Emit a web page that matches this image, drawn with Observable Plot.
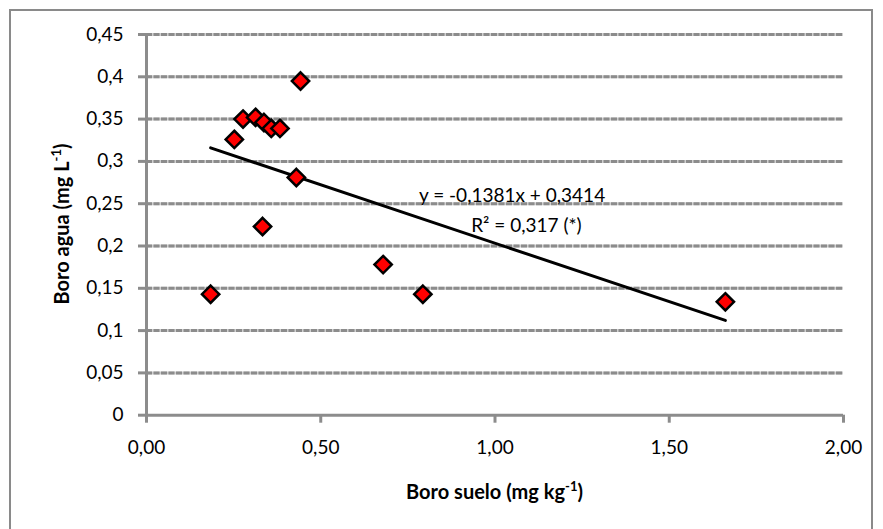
<!DOCTYPE html>
<html><head><meta charset="utf-8">
<script src="https://cdn.jsdelivr.net/npm/d3@7"></script>
<script src="https://cdn.jsdelivr.net/npm/@observablehq/plot@0.6"></script>
<style>
body{margin:0;background:#fff;}
#wrap{position:relative;width:883px;height:529px;overflow:hidden;}
#border{position:absolute;left:9px;top:9px;width:864px;height:560px;border:2px solid #8a8a8a;box-sizing:border-box;}
#chart{position:absolute;left:0;top:0;}
</style></head><body><div id="wrap"><div id="border"></div><div id="chart"></div></div>
<script>
const sueloB = [0.184, 0.252, 0.277, 0.313, 0.337, 0.358, 0.383, 0.333, 0.430, 0.442, 0.679, 0.793, 1.661];
const aguaB  = [0.143, 0.326, 0.350, 0.352, 0.346, 0.339, 0.339, 0.223, 0.281, 0.395, 0.178, 0.143, 0.134];
const slope = -0.1381, intercept = 0.3414;
const eqLines = ["y = -0,1381x + 0,3414", "R² = 0,317 (*)"];
const eqX = [1.049, 1.09];
const eqY = [0.2597, 0.224];
const xTicks = [0, 0.5, 1, 1.5, 2];
const xTickLabels = ["0,00", "0,50", "1,00", "1,50", "2,00"];
const yTicks = [0, 0.05, 0.1, 0.15, 0.2, 0.25, 0.3, 0.35, 0.4, 0.45];
const yTickLabels = ["0", "0,05", "0,1", "0,15", "0,2", "0,25", "0,3", "0,35", "0,4", "0,45"];
const xTitle = ["Boro suelo (mg kg", "-1", ")"];
const yTitle = ["Boro agua (mg L", "-1", ")"];

const pts = sueloB.map((x, i) => ({x, y: aguaB[i]}));
const trend = [d3.min(sueloB), d3.max(sueloB)].map(x => ({x, y: intercept + slope * x}));
const xFmt = new Map(xTicks.map((t, i) => [t, xTickLabels[i]]));
const yFmt = new Map(yTicks.map((t, i) => [t, yTickLabels[i]]));
const eq = eqLines.map((t, i) => ({t, x: eqX[i], y: eqY[i]}));

const plot = Plot.plot({
  width: 883, height: 529,
  marginLeft: 146, marginRight: 40, marginTop: 34, marginBottom: 114.3,
  style: {fontFamily: "Lato", fontSize: "19px", background: "transparent", overflow: "visible", color: "black"},
  x: {domain: [0, 2]},
  y: {domain: [0, 0.45]},
  marks: [
    Plot.gridY(yTicks.slice(1), {stroke: "#d0d0d0", strokeOpacity: 1, strokeWidth: 3}),
    Plot.gridY(yTicks.slice(1), {stroke: "#8c8c8c", strokeOpacity: 1, strokeWidth: 3, strokeDasharray: "6,1.5"}),
    Plot.ruleY([0], {stroke: "#8c8c8c", strokeWidth: 3}),
    Plot.ruleX([0], {stroke: "#8c8c8c", strokeWidth: 3}),
    Plot.axisX({ticks: xTicks, tickFormat: d => xFmt.get(d), tickSize: 8, tickPadding: 17, stroke: "#8c8c8c", strokeWidth: 3, fill: "black", label: null}),
    Plot.axisY({ticks: yTicks, tickFormat: d => yFmt.get(d), tickSize: 8, tickPadding: 15, stroke: "#8c8c8c", strokeWidth: 3, fill: "black", label: null}),
    Plot.line(trend, {x: "x", y: "y", stroke: "black", strokeWidth: 3}),
    Plot.dot(pts, {x: "x", y: "y", symbol: "diamond2", r: 7.8, fill: "#ff0000", stroke: "black", strokeWidth: 2.5}),
    Plot.text(eq, {x: "x", y: "y", text: "t", fontSize: 19, fill: "black"})
  ]
});
document.getElementById("chart").appendChild(plot);

const svg = d3.select(plot);
function title(parts, transform) {
  const t = svg.append("text").attr("transform", transform)
    .attr("text-anchor", "middle").attr("font-family", "Lato").attr("font-weight", "bold")
    .attr("font-size", 20).attr("fill", "black");
  t.append("tspan").text(parts[0]);
  t.append("tspan").attr("font-size", 13).attr("dy", -8).text(parts[1]);
  t.append("tspan").attr("dy", 8).text(parts[2]);
}
title(xTitle, "translate(494.5,499)");
title(yTitle, "translate(69,224) rotate(-90)");
</script></body></html>
